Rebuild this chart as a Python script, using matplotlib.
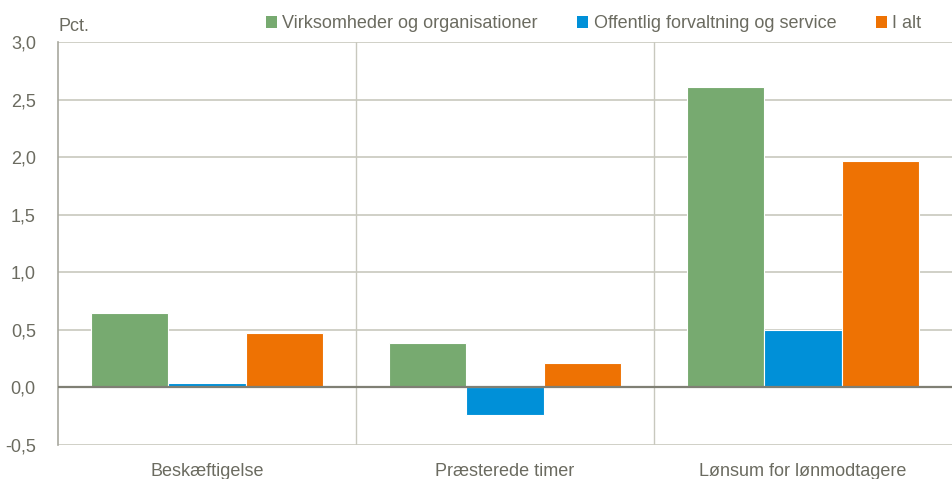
import matplotlib.pyplot as plt
import numpy as np
from matplotlib.patches import Patch
from matplotlib import font_manager

kategorier = ['Beskæftigelse', 'Præsterede timer', 'Lønsum for lønmodtagere']
serier = ['Virksomheder og organisationer', 'Offentlig forvaltning og service', 'I alt']
virksomheder = [0.65, 0.39, 2.61]
offentlig = [0.04, -0.24, 0.50]
i_alt = [0.47, 0.21, 1.97]
y_ticks = [-0.5, 0.0, 0.5, 1.0, 1.5, 2.0, 2.5, 3.0]

farver = ['#77AA70', '#0090D8', '#EE7203']
tekst = '#6B6B60'

navne = {f.name for f in font_manager.fontManager.ttflist}
if 'Liberation Sans Narrow' in navne:
  plt.rcParams['font.family'] = ['Liberation Sans Narrow', 'DejaVu Sans']
else:
  plt.rcParams['font.family'] = ['Liberation Sans', 'DejaVu Sans']

fig = plt.figure(figsize=(9.52, 4.79), dpi=100)
ax = fig.add_axes([0.061, 0.071, 0.939, 0.841])

x = np.arange(len(kategorier))
width = 0.26
for i, (vals, farve) in enumerate(zip([virksomheder, offentlig, i_alt], farver)):
  ax.bar(x + (i - 1) * width, vals, width, color=farve, edgecolor='white', linewidth=0.8, zorder=3)

ax.set_ylim(-0.5, 3.0)
ax.set_xlim(-0.5, 2.5)
ax.set_yticks(y_ticks)
ax.set_yticklabels([f'{v:.1f}'.replace('.', ',') for v in y_ticks])
ax.set_xticks(x)
ax.set_xticklabels(kategorier)
ax.tick_params(axis='both', length=0, labelsize=13, colors=tekst)
ax.tick_params(axis='y', pad=16)
ax.tick_params(axis='x', pad=13)

for v in y_ticks:
  if v != 0:
    ax.axhline(v, color='#C8C8BE', linewidth=1.2, zorder=1)
ax.axhline(0, color='#7F7F74', linewidth=1.6, zorder=4)
for sep in [0.5, 1.5]:
  ax.axvline(sep, color='#C8C8BE', linewidth=1.0, zorder=1)

for s in ['top', 'right', 'bottom']:
  ax.spines[s].set_visible(False)
ax.spines['left'].set_color('#A8A89E')
ax.spines['left'].set_linewidth(1.2)

fig.text(0.061, 0.945, 'Pct.', fontsize=13, color=tekst, va='center', ha='left')

handles = [Patch(facecolor=f, edgecolor='none') for f in farver]
leg = fig.legend(handles, serier, loc='center right', bbox_to_anchor=(0.985, 0.95), ncol=3,
                 frameon=False, fontsize=13, handlelength=0.6, handleheight=0.6,
                 handletextpad=0.3, columnspacing=2.2, labelcolor=tekst)

fig.savefig('out.png', dpi=100)
